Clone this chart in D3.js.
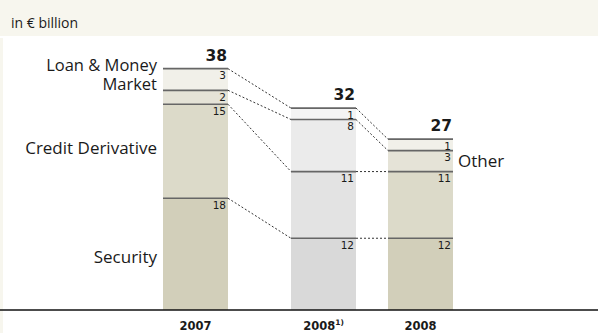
<!DOCTYPE html>
<html>
<head>
<meta charset="utf-8">
<script src="https://cdn.jsdelivr.net/npm/d3@7"></script>
<style>
  body { margin: 0; background: #fff; }
  svg { display: block; }
  .lbl { font-family: "Open Sans", "Noto Sans", sans-serif; fill: #1a1a1a; }
  .num { font-family: "DejaVu Sans", sans-serif; fill: #1a1a1a; }
</style>
</head>
<body>
<div id="chart"></div>
<script>
// chart data
const years = ["2007", "2008", "2008"];
const yearNotes = ["", "1)", ""];
const keys = ["security", "credit", "other", "loan"];
// segment sizes as drawn (unrounded)
const security = [17.6, 11.3, 11.3];
const credit = [14.8, 10.5, 10.5];
const other = [2.2, 8.2, 3.3];
const loan = [3.4, 1.8, 1.8];
// printed (rounded) values
const securityLabel = [18, 12, 12];
const creditLabel = [15, 11, 11];
const otherLabel = [2, 8, 3];
const loanLabel = [3, 1, 1];
const totals = [38, 32, 27];

const labelsByKey = { security: securityLabel, credit: creditLabel, other: otherLabel, loan: loanLabel };

const width = 598, height = 333;
const baseY = 310;

const rows = years.map((y, i) => ({
  idx: i, security: security[i], credit: credit[i], other: other[i], loan: loan[i]
}));
const stacked = d3.stack().keys(keys)(rows);

const x = d3.scaleOrdinal().domain([0, 1, 2]).range([163, 291, 388]);
const barW = 65;
const y = d3.scaleLinear().domain([0, 38]).range([baseY, 68.7]);

const beige = { security: "#d2cfba", credit: "#dcdac9", other: "#e5e3d7", loan: "#f1f0e9" };
const grey = { security: "#d9d9d9", credit: "#e3e3e3", other: "#ebebeb", loan: "#f4f4f4" };
const fill = (key, i) => (i === 1 ? grey : beige)[key];

const svg = d3.select("#chart").append("svg")
  .attr("width", width).attr("height", height);

// header band
svg.append("rect").attr("x", 0).attr("y", 0).attr("width", width).attr("height", 36).attr("fill", "#f7f6ee");
svg.append("rect").attr("x", 0).attr("y", 38).attr("width", 3).attr("height", height - 38).attr("fill", "#f7f6ee");
svg.append("text").attr("class", "lbl").attr("x", 11).attr("y", 28)
  .style("font-size", "14px").text("in € billion");

// segments
stacked.forEach(layer => {
  svg.selectAll(null).data(layer).enter().append("rect")
    .attr("x", d => x(d.data.idx))
    .attr("y", d => y(d[1]))
    .attr("width", barW)
    .attr("height", d => y(d[0]) - y(d[1]))
    .attr("fill", d => fill(layer.key, d.data.idx));
});

// dotted connectors between segment tops
stacked.forEach(layer => {
  for (let i = 0; i < layer.length - 1; i++) {
    svg.append("line")
      .attr("x1", x(i) + barW).attr("y1", y(layer[i][1]))
      .attr("x2", x(i + 1)).attr("y2", y(layer[i + 1][1]))
      .attr("stroke", "#333").attr("stroke-width", 1).attr("stroke-dasharray", "2,2");
  }
});

// segment top lines and values
stacked.forEach(layer => {
  svg.selectAll(null).data(layer).enter().append("line")
    .attr("x1", d => x(d.data.idx)).attr("x2", d => x(d.data.idx) + barW)
    .attr("y1", d => y(d[1])).attr("y2", d => y(d[1]))
    .attr("stroke", "#666").attr("stroke-width", 1.7);
  svg.selectAll(null).data(layer).enter().append("text")
    .attr("class", "num")
    .attr("x", d => x(d.data.idx) + barW - 2)
    .attr("y", d => y(d[1]) + 10.5)
    .attr("text-anchor", "end")
    .style("font-size", "10.5px")
    .text(d => labelsByKey[layer.key][d.data.idx]);
});

// totals
svg.selectAll(null).data(totals).enter().append("text")
  .attr("class", "num")
  .attr("x", (d, i) => x(i) + barW - 1)
  .attr("y", (d, i) => y(stacked[3][i][1]) - 8)
  .attr("text-anchor", "end")
  .style("font-size", "15.5px").style("font-weight", "bold")
  .text(d => d);

// axis line
svg.append("line").attr("x1", 0).attr("x2", width).attr("y1", baseY).attr("y2", baseY)
  .attr("stroke", "#111").attr("stroke-width", 1.5);

// year labels
const yl = svg.selectAll(null).data(years).enter().append("text")
  .attr("class", "num")
  .attr("x", (d, i) => x(i) + barW / 2)
  .attr("y", 330)
  .attr("text-anchor", "middle")
  .style("font-size", "11.5px").style("font-weight", "bold");
yl.append("tspan").text(d => d);
yl.append("tspan").attr("dy", -5).style("font-size", "7.5px")
  .text((d, i) => yearNotes[i]);

// category labels (left of first bar)
const first = Object.fromEntries(stacked.map(l => [l.key, l[0]]));
const lx = x(0) - 6;
const cat = (txt, yy) => svg.append("text").attr("class", "lbl")
  .attr("x", lx).attr("y", yy).attr("text-anchor", "end")
  .style("font-size", "17px").text(txt);

// two-line label as one text element
const lm = svg.append("text").attr("class", "lbl")
  .attr("text-anchor", "end").style("font-size", "16.5px");
lm.append("tspan").attr("x", lx).attr("y", y(first.loan[1]) + 2.5).text("Loan & Money");
lm.append("tspan").attr("x", lx).attr("y", y(first.other[1]) - 0.5).text("Market");

cat("Credit Derivative", (y(first.credit[0]) + y(first.credit[1])) / 2 + 3);
cat("Security", (y(first.security[0]) + y(first.security[1])) / 2 + 9);

// Other label at the right of the last bar
const lastOther = stacked[2][2];
svg.append("text").attr("class", "lbl")
  .attr("x", x(2) + barW + 5)
  .attr("y", y(lastOther[1]) + 16.5)
  .style("font-size", "17px").text("Other");
</script>
</body>
</html>
